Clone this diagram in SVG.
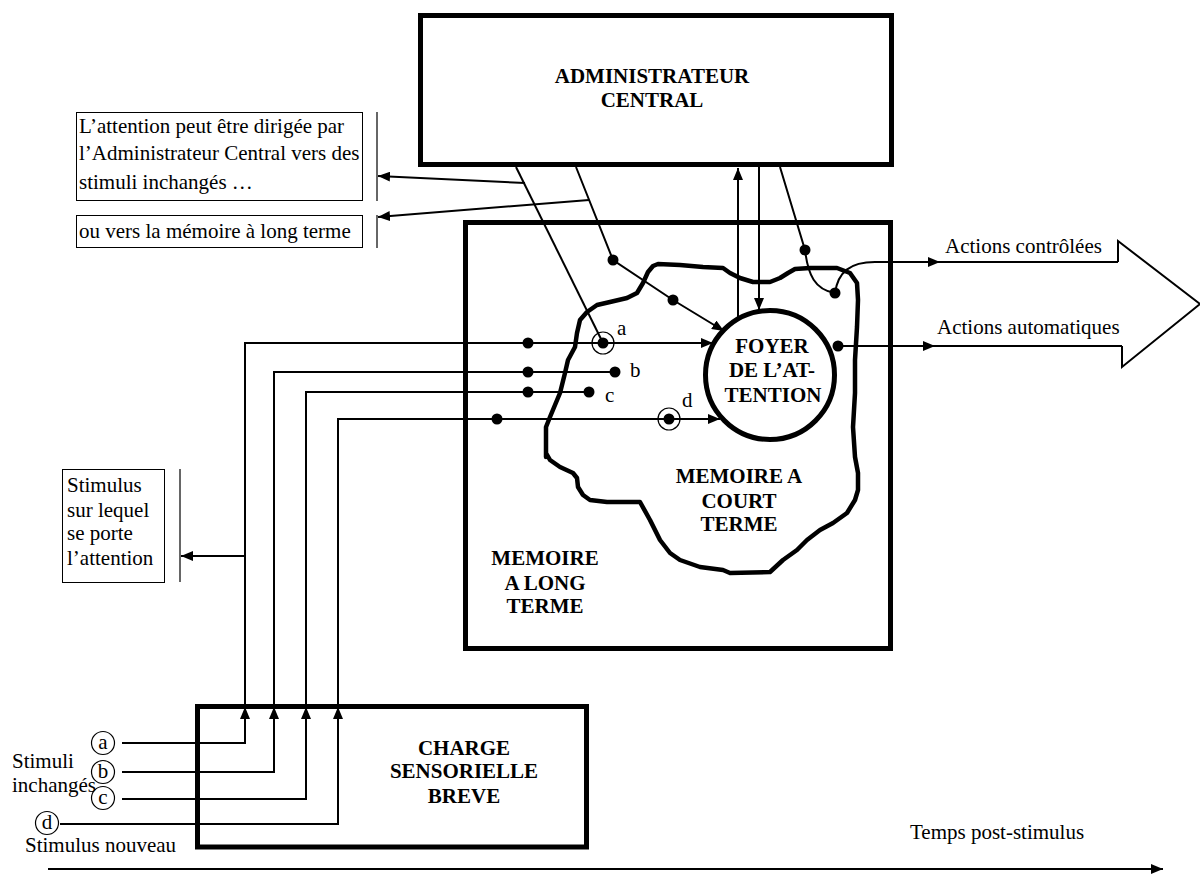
<svg xmlns="http://www.w3.org/2000/svg" width="1200" height="876" viewBox="0 0 1200 876">
<style>
text{font-family:"Liberation Serif","Times New Roman",serif;font-size:21px;fill:#000}
.b{font-weight:bold;text-anchor:middle}
.box{fill:none;stroke:#000;stroke-width:5}
.ln{fill:none;stroke:#000;stroke-width:2}
.note{fill:#fff;stroke:#000;stroke-width:1}
.bar{stroke:#333;stroke-width:1.5}
.dot{fill:#000}
.ring{fill:none;stroke:#000;stroke-width:1.2}
.blob{fill:none;stroke:#000;stroke-width:4.5;stroke-linejoin:round}
</style>
<defs>
<marker id="ah" viewBox="0 0 12 10" refX="12" refY="5" markerWidth="12" markerHeight="10" markerUnits="userSpaceOnUse" orient="auto">
<path d="M0,0 L12,5 L0,10 z" fill="#000"/>
</marker>
</defs>
<rect width="1200" height="876" fill="#fff"/>

<g id="administrateur">
<rect class="box" x="420.5" y="15.5" width="471" height="149" fill="#fff"/>
<text class="b" x="652" y="83">ADMINISTRATEUR</text>
<text class="b" x="652" y="107">CENTRAL</text>
</g>

<g id="memoire-long-terme">
<rect class="box" x="465.5" y="222.5" width="425" height="426"/>
<text class="b" x="545" y="565">MEMOIRE</text>
<text class="b" x="545" y="590">A LONG</text>
<text class="b" x="545" y="613">TERME</text>
</g>

<g id="memoire-court-terme">
<polygon class="blob" points="546,457 546,427 550,417 560,393 565,373 568,360 575,347 577,333 580,320 587,312 597,305 610,302 627,298 637,293 643,283 648,272 653,266 658,264 680,265 703,267 723,268 730,273 740,278 753,282 770,282 780,278 788,273 795,269 810,268 837,268 850,273 857,283 858,300 857,327 855,360 855,393 853,427 855,457 858,473 858,490 855,500 847,513 833,523 820,530 807,540 797,550 783,560 770,572 730,573 723,570 700,567 680,560 670,553 660,540 650,520 640,502 607,502 590,500 583,495 578,487 577,478 573,473 560,467 550,460 546,453"/>
<text class="b" x="739" y="483">MEMOIRE A</text>
<text class="b" x="739" y="508">COURT</text>
<text class="b" x="739" y="531">TERME</text>
</g>

<g id="foyer">
<circle cx="770" cy="375" r="64.5" fill="#fff" stroke="#000" stroke-width="5"/>
<text class="b" x="772" y="353">FOYER</text>
<text class="b" x="772" y="377">DE L’AT-</text>
<text class="b" x="773" y="402">TENTION</text>
</g>

<g id="charge-sensorielle">
<rect class="box" x="197.5" y="706.5" width="389" height="140.5"/>
<text class="b" x="464" y="755">CHARGE</text>
<text class="b" x="464" y="778">SENSORIELLE</text>
<text class="b" x="464" y="803">BREVE</text>
</g>

<g id="note-stimuli-inchanges">
<rect class="note" x="76.5" y="112.5" width="286" height="88"/>
<line class="bar" x1="377" y1="112" x2="377" y2="201"/>
<text x="79" y="133">L’attention peut être dirigée par</text>
<text x="79" y="160">l’Administrateur Central vers des</text>
<text x="79" y="189">stimuli inchangés …</text>
</g>

<g id="note-memoire-long-terme">
<rect class="note" x="76.5" y="215.5" width="286" height="32"/>
<line class="bar" x1="377" y1="215" x2="377" y2="248"/>
<text x="79" y="238">ou vers la mémoire à long terme</text>
</g>

<g id="note-stimulus-attention">
<rect class="note" x="62.5" y="469.5" width="102" height="113"/>
<line class="bar" x1="180" y1="469" x2="180" y2="582"/>
<text x="67" y="492">Stimulus</text>
<text x="67" y="517">sur lequel</text>
<text x="67" y="540">se porte</text>
<text x="67" y="565">l’attention</text>
</g>

<g id="stimuli">
<circle class="ring" cx="103" cy="743" r="11.5"/>
<text x="103" y="749" text-anchor="middle" font-size="20">a</text>
<circle class="ring" cx="103" cy="772" r="11.5"/>
<text x="103" y="778" text-anchor="middle" font-size="20">b</text>
<circle class="ring" cx="103" cy="798" r="11.5"/>
<text x="103" y="804" text-anchor="middle" font-size="20">c</text>
<circle class="ring" cx="47" cy="823" r="11.5"/>
<text x="47" y="829" text-anchor="middle" font-size="20">d</text>
<text x="12" y="768">Stimuli</text>
<text x="12" y="792">inchangés</text>
<text x="25" y="852">Stimulus nouveau</text>
</g>

<g id="labels">
<text x="617" y="335">a</text>
<text x="630" y="377">b</text>
<text x="605" y="402">c</text>
<text x="682" y="407">d</text>
<text x="945" y="253">Actions contrôlées</text>
<text x="937" y="334">Actions automatiques</text>
<text x="910" y="839" font-size="26">Temps post-stimulus</text>
</g>

<g id="connectors">
<polyline class="ln" points="122,743 245,743 245,707" marker-end="url(#ah)"/>
<polyline class="ln" points="245,707 245,343 713,343" marker-end="url(#ah)"/>
<polyline class="ln" points="122,772 274,772 274,707" marker-end="url(#ah)"/>
<polyline class="ln" points="274,707 274,372 615,372"/>
<polyline class="ln" points="122,799 306,799 306,707" marker-end="url(#ah)"/>
<polyline class="ln" points="306,707 306,392 589,392"/>
<polyline class="ln" points="60,824 338,824 338,707" marker-end="url(#ah)"/>
<polyline class="ln" points="338,707 338,419 720,419" marker-end="url(#ah)"/>
<line class="ln" x1="245" y1="556" x2="181" y2="556" marker-end="url(#ah)"/>
<line class="ln" x1="516" y1="167" x2="603" y2="343"/>
<polyline class="ln" points="576,167 613,260 673,300 724,331" marker-end="url(#ah)"/>
<line class="ln" x1="525" y1="183" x2="378" y2="176" marker-end="url(#ah)"/>
<line class="ln" x1="589" y1="200" x2="378" y2="217" marker-end="url(#ah)"/>
<line class="ln" x1="738" y1="319" x2="738" y2="168" marker-end="url(#ah)"/>
<line class="ln" x1="759" y1="167" x2="759" y2="310" marker-end="url(#ah)"/>
<path class="ln" d="M780,167 L805,250 C808,275 815,290 835,293"/>
<path class="ln" d="M835,293 C838,272 850,262 875,262 L940,262" marker-end="url(#ah)"/>
<line class="ln" x1="930" y1="262" x2="1118" y2="262"/>
<line class="ln" x1="838" y1="346" x2="935" y2="346" marker-end="url(#ah)"/>
<line class="ln" x1="925" y1="346" x2="1122" y2="346"/>
<polyline class="ln" points="1118,262 1118,241 1200,304 1122,367 1122,346"/>
<line class="ln" x1="48" y1="869" x2="1163" y2="869" marker-end="url(#ah)"/>
<circle class="dot" cx="528" cy="343" r="5.5"/>
<circle class="dot" cx="528" cy="372" r="5.5"/>
<circle class="dot" cx="528" cy="392" r="5.5"/>
<circle class="dot" cx="497" cy="419" r="5.5"/>
<circle class="dot" cx="603" cy="343" r="5.5"/>
<circle class="ring" cx="603" cy="343" r="11"/>
<circle class="dot" cx="615" cy="372" r="5.5"/>
<circle class="dot" cx="589" cy="392" r="5.5"/>
<circle class="dot" cx="669" cy="419" r="5.5"/>
<circle class="ring" cx="669" cy="419" r="11"/>
<circle class="dot" cx="613" cy="260" r="5.5"/>
<circle class="dot" cx="673" cy="300" r="5.5"/>
<circle class="dot" cx="805" cy="250" r="5.5"/>
<circle class="dot" cx="835" cy="293" r="5.5"/>
<circle class="dot" cx="838" cy="346" r="5.5"/>
</g>
</svg>
